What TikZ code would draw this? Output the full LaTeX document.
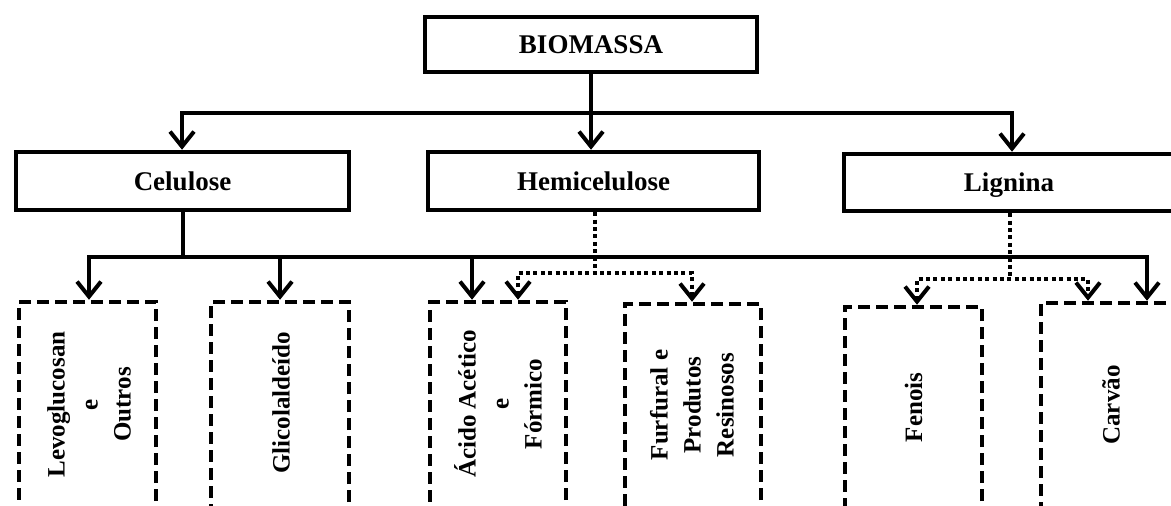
\documentclass[tikz,border=0pt]{standalone}
\usepackage{fontspec}
\setmainfont{Liberation Serif}
\usetikzlibrary{arrows.meta}
\begin{document}
\begin{tikzpicture}[x=1pt,y=-1pt,
  mainbox/.style={draw, line width=4.5pt, inner sep=0pt,
    font=\fontsize{27}{32}\selectfont\bfseries, text height=18pt, text depth=0pt},
  prodbox/.style={draw, line width=4.5pt, dash pattern=on 12pt off 6pt, inner sep=0pt},
  prodtext/.style={rotate=90, align=center, inner sep=0pt,
    font=\fontsize{25}{33}\selectfont\bfseries},
  conn/.style={line width=4.5pt},
  dotconn/.style={line width=3.5pt, dash pattern=on 4pt off 3.4pt},
  barb/.tip={Straight Barb[length=15pt,width=24pt,line width=4pt]},
  arr/.style={-barb},
  arrs/.style={barb-barb}
]
\useasboundingbox (0,0) rectangle (1171,506);
\fill[white] (0,0) rectangle (1171,506);
\clip (0,0) rectangle (1171,506);

% main boxes
\node[mainbox, minimum width=332pt, minimum height=55pt] (bio) at (591,44.5) {BIOMASSA};
\node[mainbox, minimum width=333pt, minimum height=58pt] (cel) at (182.5,181) {Celulose};
\node[mainbox, minimum width=331pt, minimum height=58pt] (hem) at (593.5,181) {Hemicelulose};
\node[mainbox, minimum width=330pt, minimum height=57pt] (lig) at (1009,182.5) {Lignina};

% product boxes
\node[prodbox, minimum width=137pt, minimum height=206pt] (lev) at (87.5,405) {};
\node[prodbox, minimum width=138pt, minimum height=206pt] (gli) at (280,405) {};
\node[prodbox, minimum width=136pt, minimum height=206pt] (aci) at (498,405) {};
\node[prodbox, minimum width=136pt, minimum height=204pt] (fur) at (693,406) {};
\node[prodbox, minimum width=137pt, minimum height=201pt] (fen) at (913.5,407.5) {};
\node[prodbox, minimum width=140pt, minimum height=205pt] (car) at (1111,405.5) {};

% product texts
\node[prodtext] (levt) at (89,404.5) {Levoglucosan\\e\\Outros};
\node[prodtext] (glit) at (281,403) {Glicolaldeído};
\node[prodtext] (acit) at (498,404) {Ácido Acético\\e\\Fórmico};
\node[prodtext] (furt) at (692,405) {Furfural e\\Produtos\\Resinosos};
\node[prodtext] (fent) at (913.5,407.5) {Fenois};
\node[prodtext] (cart) at (1111,405) {Carvão};

% coordinates
\coordinate (h1) at (182,113);
\coordinate (h2) at (1012,113);
\coordinate (c1) at (183,257);
\coordinate (a1) at (89,257);
\coordinate (a2) at (280,257);
\coordinate (a3) at (472,257);
\coordinate (a4) at (1147,257);
\coordinate (d0) at (595,273);
\coordinate (d1) at (518,273);
\coordinate (d2) at (692,273);
\coordinate (e0) at (1010,279);
\coordinate (e1) at (917,279);
\coordinate (e2) at (1088,279);

% top level connectors
\draw[conn, arr] (bio.south) -- (bio.south |- hem.north);
\draw[conn, arrs] (h1 |- cel.north) -- (h1) -- (h2) -- (h2 |- lig.north);

% celulose bus
\draw[conn] (c1 |- cel.south) -- (c1);
\draw[conn, arrs] (a1 |- lev.north) -- (a1) -- (a4) -- (a4 |- car.north);
\draw[conn, arr] (a2) -- (a2 |- gli.north);
\draw[conn, arr] (a3) -- (a3 |- aci.north);

% hemicelulose dotted
\draw[dotconn] (d0 |- hem.south) -- (d0);
\draw[dotconn, arrs] (d1 |- aci.north) -- (d1) -- (d2) -- (d2 |- fur.north);

% lignina dotted
\draw[dotconn] (e0 |- lig.south) -- (e0);
\draw[dotconn, arrs] (e1 |- fen.north) -- (e1) -- (e2) -- (e2 |- car.north);
\end{tikzpicture}
\end{document}
